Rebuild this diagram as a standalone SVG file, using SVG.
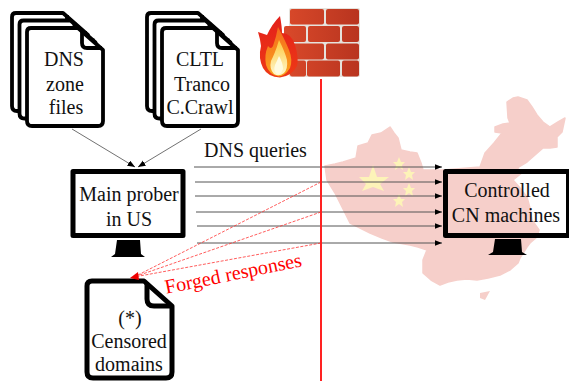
<svg xmlns="http://www.w3.org/2000/svg" width="569" height="381" viewBox="0 0 569 381">
<defs>
<style>
text{font-family:"Liberation Serif","Times New Roman",serif;font-size:20px;fill:#111;text-anchor:middle}
.doc{fill:#fff;stroke:#000;stroke-width:3.8;stroke-linejoin:round}
.fold{fill:none;stroke:#000;stroke-width:3.8;stroke-linejoin:round}
.screen{fill:none;stroke:#000;stroke-width:5;stroke-linejoin:round}
.q{stroke:#555;stroke-width:1;fill:none;marker-end:url(#ah)}
.f{stroke:#f33;stroke-width:.8;stroke-dasharray:3 1.5;fill:none}
.thin{stroke:#333;stroke-width:.7;fill:none;marker-end:url(#ah)}
.brick{fill:url(#bg)}
</style>
<marker id="ah" markerUnits="userSpaceOnUse" markerWidth="8" markerHeight="7" refX="7.5" refY="3" orient="auto"><path d="M0 0L7.5 3L0 6Z" fill="#000"/></marker>
<linearGradient id="bg" gradientUnits="userSpaceOnUse" x1="285" y1="0" x2="360" y2="0"><stop offset="0" stop-color="#d9492a"/><stop offset="1" stop-color="#b8341f"/></linearGradient>
<linearGradient id="fl" x1="0" y1="0" x2="0" y2="1"><stop offset="0" stop-color="#e3201a"/><stop offset="1" stop-color="#ee3a16"/></linearGradient>
<linearGradient id="fo" x1="0" y1="0" x2="0" y2="1"><stop offset="0" stop-color="#f4691c"/><stop offset="1" stop-color="#fba51f"/></linearGradient>
<linearGradient id="fy" x1="0" y1="0" x2="0" y2="1"><stop offset="0" stop-color="#fdc83c"/><stop offset="1" stop-color="#fff8cf"/></linearGradient>
<g id="d"><path class="doc" d="M31 28H78L103 50V121Q103 126 98 126H32Q27 126 27 121V32Q27 28 31 28Z"/><path class="fold" d="M82 30V43Q82 48 87 48H102"/></g>
</defs>

<g id="china">
<path fill="#f6cfca" stroke="#f6cfca" stroke-width="1.500" stroke-linejoin="round" d="M325 166L335 164L343 162L356 158L358 146L368 143L372 135L381 133L387 129L390 127L394 133L398 138L401 150L410 152L417 153L421 163L423 170L443 170L480 167L485 153L494 143L502 133L495 132L495 127L503 124L510 123L508 118L507 102L513 98L518 97L527 100L532 107L537 115L543 122L550 127L558 122L565 118L562 132L557 137L557 147L550 148L543 148L535 155L527 162L517 168L523 172L513 180L520 188L527 197L530 208L532 220L539 230L537 237L530 243L527 247L520 258L518 263L510 270L500 275L488 278L477 280L467 279L457 280L448 282L440 285L431 280L423 273L423 260L427 250L418 247L410 245L393 242L382 238L370 233L350 223L342 207L335 193L327 180Z"/>
<path fill="#f6cfca" d="M480 293L490 291L485 300L480 298Z"/>
<g fill="#fdf3b8">
<path d="M373 165L377 177L389 177L380 184L384 191L373 187L362 191L366 184L359 177L369 177Z"/>
<path d="M399 157L401 162L405 162L402 165L403 170L399 167L395 170L396 165L393 162L397 162Z"/>
<path d="M409 167L411 172L415 172L412 175L413 180L409 177L405 180L406 175L403 172L407 172Z"/>
<path d="M409 183L411 188L415 188L412 191L413 196L409 193L405 196L406 191L403 188L407 188Z"/>
<path d="M399 194L401 199L405 199L402 202L403 207L399 204L395 207L396 202L393 199L397 199Z"/>
</g>
</g>

<g id="firewall">
<rect x="289" y="8" width="71" height="69" rx="2" fill="#e6e2dc"/>
<rect class="brick" x="290" y="9" width="34" height="15.500" rx="2"/>
<rect class="brick" x="326" y="9" width="33" height="15.500" rx="2"/>
<rect class="brick" x="284" y="26" width="22" height="16" rx="2"/>
<rect class="brick" x="308" y="26" width="32" height="16" rx="2"/>
<rect class="brick" x="342" y="26" width="17" height="16" rx="2"/>
<rect class="brick" x="290" y="43.500" width="34" height="16" rx="2"/>
<rect class="brick" x="326" y="43.500" width="33" height="16" rx="2"/>
<rect class="brick" x="290" y="60.500" width="16" height="16" rx="2"/>
<rect class="brick" x="307" y="60.500" width="33" height="16" rx="2"/>
<rect class="brick" x="342" y="60.500" width="17" height="16" rx="2"/>
<path fill="url(#fl)" d="M258 32L267 35Q272 24 280 16Q282 27 282 33Q291 33 295 45Q299 58 297 66Q292 76 280 77.500Q268 77 263 68Q258 58 261 46Q260 38 258 32Z"/>
<path fill="url(#fo)" d="M278 27Q285 40 289 50Q293 60 290 68Q285 76 279 76.500Q269 75 266 65Q264 55 268 46Q271 50 273 46Q276 38 278 27Z"/>
<path fill="url(#fy)" d="M279 40Q285 52 287 60Q288 69 284 73Q279 77 274 74Q269 69 271 61Q273 57 275 52Q277 47 279 40Z"/>
<path fill="#fffbe0" d="M279 56Q283 63 283 69Q281 75 277 74Q273 71 275 65Q277 61 279 56Z"/>
</g>

<g id="dns-zone-files">
<use href="#d" x="-15" y="-15"/><use href="#d" x="-7.500" y="-7.500"/><use href="#d"/>
<text x="64" y="66">DNS</text><text x="65" y="91">zone</text><text x="66" y="114">files</text>
</g>

<g id="lists">
<use href="#d" x="120" y="-15"/><use href="#d" x="127.500" y="-7.500"/><use href="#d" x="135"/>
<text x="200" y="66">CLTL</text><text x="202" y="91">Tranco</text><text x="200" y="114">C.Crawl</text>
</g>

<g id="main-prober">
<rect class="screen" x="73" y="171.500" width="110" height="64"/>
<path d="M117 240H140L141 254L145 257H111L115 254Z"/>
<text x="129" y="201">Main prober</text><text x="129" y="226">in US</text>
</g>

<g id="controlled-cn">
<rect class="screen" x="445.500" y="171.500" width="123" height="64"/>
<path d="M495 239H521L522 252L527 255H488L493 252Z"/>
<text x="507" y="197">Controlled</text><text x="506" y="222">CN machines</text>
</g>

<g id="censored-domains">
<path class="doc" style="stroke-width:5" d="M92 281H144L172 306V372Q172 378 166 378H93Q87 378 87 372V286Q87 281 92 281Z"/>
<path class="fold" style="stroke-width:5" d="M147 283V299Q147 306 154 306H171"/>
<text x="130" y="325">(*)</text><text x="129" y="348">Censored</text><text x="129" y="371">domains</text>
</g>

<g id="connectors">
<path class="thin" d="M72 129L135 167"/>
<path class="thin" d="M201 129L138 167"/>
<path class="q" d="M194 167H442"/>
<path class="q" d="M195 182H442"/>
<path class="q" d="M195 196H442"/>
<path class="q" d="M196 212H442"/>
<path class="q" d="M197 226H442"/>
<path class="q" d="M197 243H442"/>
<path class="f" d="M321 182L134 277"/>
<path class="f" d="M321 212L134 277"/>
<path class="f" d="M321 243L134 277"/>
<path d="M130 278L138 272L139 280Z" fill="#e00"/>
<path d="M321 79V381" stroke="#f22" stroke-width="2" fill="none"/>
</g>

<text x="255.500" y="157">DNS queries</text>
<text transform="translate(234.500 280) rotate(-11.500)" style="fill:#f00">Forged responses</text>
</svg>
